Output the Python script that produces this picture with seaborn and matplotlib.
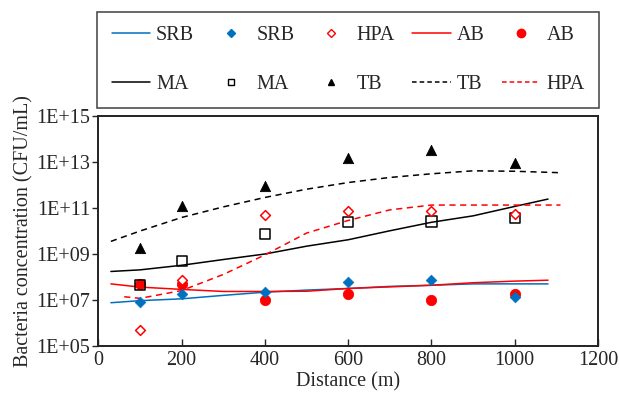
import numpy as np
import pandas as pd
import matplotlib
matplotlib.use("Agg")
import matplotlib.pyplot as plt
import seaborn as sns
from matplotlib.lines import Line2D
from matplotlib.ticker import FixedLocator, FixedFormatter, NullLocator

# ---- data (log10 of CFU/mL) ----
pt_x = [100, 200, 400, 600, 800, 1000]
srb_pts = [6.89, 7.24, 7.36, 7.80, 7.85, 7.11]
hpa_pts = [5.68, 7.89, 10.68, 10.88, 10.88, 10.74]
ab_pts = [7.70, 7.70, 7.02, 7.24, 6.98, 7.24]
ma_pts = [7.64, 8.70, 9.87, 10.40, 10.42, 10.56]
tb_pts = [9.26, 11.10, 11.94, 13.16, 13.53, 12.95]

ln_x = [30, 100, 200, 300, 400, 500, 600, 700, 800, 900, 1000, 1080]
srb_ln = [6.88, 6.97, 7.05, 7.20, 7.34, 7.43, 7.50, 7.59, 7.64, 7.70, 7.70, 7.70]
ab_ln = [7.70, 7.56, 7.46, 7.37, 7.37, 7.38, 7.50, 7.57, 7.64, 7.75, 7.82, 7.86]
ma_ln = [8.24, 8.31, 8.51, 8.76, 9.00, 9.34, 9.62, 10.01, 10.38, 10.66, 11.07, 11.39]

tb_x = [30, 100, 200, 300, 400, 500, 600, 700, 800, 900, 1000, 1105]
tb_ln = [9.55, 10.0, 10.59, 11.05, 11.46, 11.82, 12.11, 12.33, 12.49, 12.62, 12.60, 12.54]

hpa_x = [62, 100, 200, 300, 400, 500, 600, 700, 800, 900, 1000, 1110]
hpa_ln = [7.14, 7.07, 7.41, 8.11, 8.96, 9.91, 10.46, 10.92, 11.13, 11.13, 11.13, 11.13]

yticks = [1e5, 1e7, 1e9, 1e11, 1e13, 1e15]
ytick_labels = ["1E+05", "1E+07", "1E+09", "1E+11", "1E+13", "1E+15"]
xticks = [0, 200, 400, 600, 800, 1000, 1200]

BLUE = "#0070C0"
RED = "#FF0000"
BLACK = "#000000"

sns.set_style("ticks")
plt.rcParams["font.family"] = ["Liberation Serif", "DejaVu Serif"]
FS = 14.5

fig = plt.figure(figsize=(6.19, 3.99), dpi=100)
ax = fig.add_axes([0.159, 0.133, 0.807, 0.576])

def lin(x, y):
    return pd.DataFrame({"x": x, "y": np.power(10.0, y)})

sns.lineplot(data=lin(ln_x, srb_ln), x="x", y="y", ax=ax, color=BLUE, lw=1.1, estimator=None, sort=False)
sns.lineplot(data=lin(ln_x, ab_ln), x="x", y="y", ax=ax, color=RED, lw=1.1, estimator=None, sort=False)
sns.lineplot(data=lin(ln_x, ma_ln), x="x", y="y", ax=ax, color=BLACK, lw=1.1, estimator=None, sort=False)
sns.lineplot(data=lin(tb_x, tb_ln), x="x", y="y", ax=ax, color=BLACK, lw=1.1, estimator=None, sort=False,
             linestyle=(0, (4, 3)))
sns.lineplot(data=lin(hpa_x, hpa_ln), x="x", y="y", ax=ax, color=RED, lw=1.1, estimator=None, sort=False,
             linestyle=(0, (4, 3)))

sns.scatterplot(data=lin(pt_x, ab_pts), x="x", y="y", ax=ax, marker="o", s=55, color=RED, edgecolor=RED, zorder=3)
sns.scatterplot(data=lin(pt_x, srb_pts), x="x", y="y", ax=ax, marker="D", s=30, color=BLUE, edgecolor=BLUE, zorder=3)
sns.scatterplot(data=lin(pt_x, ma_pts), x="x", y="y", ax=ax, marker="s", s=55, facecolor="none",
                edgecolor=BLACK, linewidth=1.1, zorder=4)
sns.scatterplot(data=lin(pt_x, hpa_pts), x="x", y="y", ax=ax, marker="D", s=25, facecolor="white",
                edgecolor=RED, linewidth=1.1, zorder=5)
sns.scatterplot(data=lin(pt_x, tb_pts), x="x", y="y", ax=ax, marker="^", s=55, color=BLACK, edgecolor=BLACK, zorder=4)

ax.set_yscale("log")
ax.set_ylim(1e5, 1e15)
ax.set_xlim(0, 1200)
ax.yaxis.set_major_locator(FixedLocator(yticks))
ax.yaxis.set_major_formatter(FixedFormatter(ytick_labels))
ax.yaxis.set_minor_locator(NullLocator())
ax.set_xticks(xticks)
ax.tick_params(axis="y", labelsize=FS, direction="out", length=4, width=1, pad=2)
ax.tick_params(axis="x", labelsize=FS, direction="in", length=5, width=1, pad=4)
ax.set_xlabel("Distance (m)", fontsize=FS, labelpad=1)
ax.set_ylabel("Bacteria concentration (CFU/mL)", fontsize=FS, labelpad=2)
for sp in ax.spines.values():
    sp.set_visible(True)
    sp.set_linewidth(1.4)
    sp.set_color("#222222")

handles = [
    Line2D([], [], color=BLUE, lw=1.1),
    Line2D([], [], color=BLACK, lw=1.1),
    Line2D([], [], ls="none", marker="D", color=BLUE, ms=4),
    Line2D([], [], ls="none", marker="s", mfc="none", mec=BLACK, ms=5),
    Line2D([], [], ls="none", marker="D", mfc="white", mec=RED, ms=4),
    Line2D([], [], ls="none", marker="^", color=BLACK, ms=5),
    Line2D([], [], color=RED, lw=1.1),
    Line2D([], [], color=BLACK, lw=1.1, ls=(0, (3, 2))),
    Line2D([], [], ls="none", marker="o", color=RED, ms=6),
    Line2D([], [], color=RED, lw=1.1, ls=(0, (3, 2))),
]
labels = ["SRB", "MA", "SRB", "MA", "HPA", "TB", "AB", "TB", "AB", "HPA"]
leg = fig.legend(handles, labels, ncol=5, loc="lower left", mode="expand",
                 bbox_to_anchor=(0.157, 0.729, 0.811, 0.238), fontsize=FS,
                 frameon=True, fancybox=False, edgecolor="#222222", borderpad=0.72,
                 labelspacing=1.45, handlelength=1.9, handletextpad=0.3, columnspacing=0.8,
                 borderaxespad=0)
leg.get_frame().set_linewidth(1.2)

fig.savefig("out.png", dpi=100)
